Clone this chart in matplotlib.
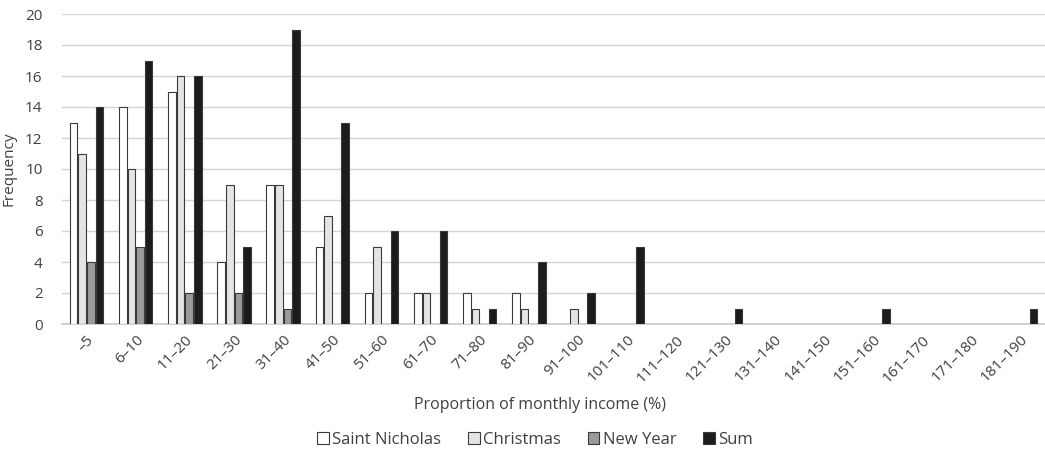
import numpy as np
import matplotlib.pyplot as plt

plt.rcParams['font.family'] = ['Open Sans', 'DejaVu Sans']

categories = ['–5', '6–10', '11–20', '21–30', '31–40', '41–50', '51–60', '61–70',
              '71–80', '81–90', '91–100', '101–110', '111–120', '121–130', '131–140',
              '141–150', '151–160', '161–170', '171–180', '181–190']
saint_nicholas = [13, 14, 15, 4, 9, 5, 2, 2, 2, 2, 0, 0, 0, 0, 0, 0, 0, 0, 0, 0]
christmas = [11, 10, 16, 9, 9, 7, 5, 2, 1, 1, 1, 0, 0, 0, 0, 0, 0, 0, 0, 0]
new_year = [4, 5, 2, 2, 1, 0, 0, 0, 0, 0, 0, 0, 0, 0, 0, 0, 0, 0, 0, 0]
total = [14, 17, 16, 5, 19, 13, 6, 6, 1, 4, 2, 5, 0, 1, 0, 0, 1, 0, 0, 1]

series = [
    ('Saint Nicholas', saint_nicholas, '#ffffff'),
    ('Christmas', christmas, '#e4e4e4'),
    ('New Year', new_year, '#9a9a9a'),
    ('Sum', total, '#1c1c1c'),
]

fig = plt.figure(figsize=(10.45, 4.55), dpi=100)
ax = fig.add_axes([62 / 1045, 1 - 324 / 455, 983 / 1045, 310 / 455])

x = np.arange(len(categories))
slot = 0.175
width = 0.155
for i, (name, vals, color) in enumerate(series):
    v = np.array(vals)
    pos = x + (i - 1.5) * slot
    # zero-height bars are not drawn in the original
    mask = v > 0
    ax.bar(pos[mask], v[mask], width=width, color=color, edgecolor='#3a3a3a',
           linewidth=0.8, label=name, zorder=3)

ax.set_xlim(-0.5, len(categories) - 0.5)
ax.set_ylim(0, 20)
ax.set_yticks(range(0, 21, 2))
ax.yaxis.grid(True, color='#d4d4d4', linewidth=1, zorder=0)
ax.set_axisbelow(True)
for s in ['top', 'right', 'left']:
    ax.spines[s].set_visible(False)
ax.spines['bottom'].set_color('#c8c8c8')
ax.spines['bottom'].set_linewidth(1.2)
ax.tick_params(axis='both', length=0, colors='#404040', labelsize=11)
ax.tick_params(axis='y', pad=14)
ax.set_xticks(x)
ax.set_xticklabels(categories, rotation=45, ha='right', rotation_mode='anchor')
ax.tick_params(axis='x', pad=6)

ax.set_ylabel('Frequency', color='#404040', fontsize=11, labelpad=6)
ax.set_xlabel('Proportion of monthly income (%)', color='#404040', fontsize=11.5)
ax.xaxis.set_label_coords((540 - 62) / 983, -(397 - 324) / 310)

handles, labels = ax.get_legend_handles_labels()
fig.legend(handles, labels, loc='center', bbox_to_anchor=(535 / 1045, 1 - 440 / 455), ncol=4,
           frameon=False, fontsize=12, handlelength=0.7, handleheight=0.7,
           handletextpad=0.2, columnspacing=1.6, labelcolor='#404040')

fig.savefig('out.png', dpi=100)
